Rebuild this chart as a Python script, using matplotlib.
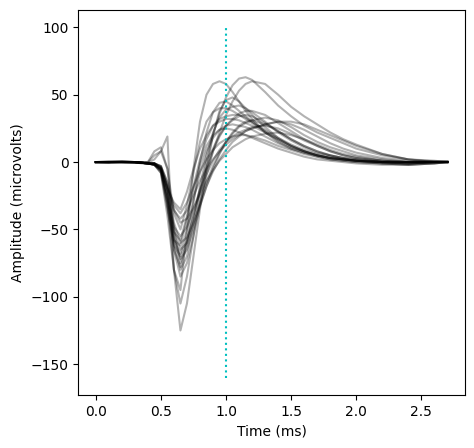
import numpy as np
import matplotlib
matplotlib.use("Agg")
import matplotlib.pyplot as plt

# shared time axis (ms)
t = [0.0, 0.1, 0.2, 0.3, 0.4, 0.45, 0.5, 0.55, 0.6, 0.65, 0.7, 0.75, 0.8,
     0.85, 0.9, 0.95, 1.0, 1.05, 1.1, 1.15, 1.2, 1.3, 1.4, 1.5, 1.6, 1.7,
     1.8, 1.9, 2.0, 2.2, 2.4, 2.6, 2.7]

# spike waveforms (microvolts), one list per spike
w01 = [0, 0, 0.5, 0, -0.5, 2, 8, 19, -80, -125, -105, -70, -35, -5, 20, 38, 46, 48, 45, 40, 35, 26, 18, 12, 8, 5, 3, 2, 1, 0, 0, 0.5, 0.5]
w02 = [0, 0.5, 0, 0, -1, -1, -6, -30, -80, -105, -85, -55, -25, 0, 20, 36, 48, 57, 62, 63, 61, 52, 42, 34, 27, 22, 18, 14, 10, 5, 2, 0.5, 0]
w03 = [0, 0, 0, -0.5, -1, -2, -8, -40, -80, -95, -50, -5, 30, 50, 58, 60, 58, 52, 45, 38, 32, 22, 15, 10, 7, 5, 3, 2, 1, 0, -1, 0, 0]
w04 = [0, 0, 0.5, 0, -1, -2, -5, -25, -65, -85, -75, -55, -32, -10, 8, 22, 35, 45, 53, 58, 60, 58, 50, 41, 34, 28, 22, 17, 13, 6, 2, 0, 0]
w05 = [0, -0.5, 0, 0, -1, -1, -4, -20, -60, -80, -70, -45, -18, 5, 22, 33, 39, 41, 42, 40, 37, 30, 22, 16, 11, 7, 5, 3, 2, 0, -1, 0, 0.5]
w06 = [0, 0, 0, -0.5, -1, -2, -6, -30, -65, -78, -62, -40, -20, -4, 10, 20, 27, 31, 34, 35, 34, 29, 23, 17, 12, 8, 5, 3, 1, -1, -2, -1, 0]
w07 = [0, 0, 0.5, 0, 0, 8, 11, -5, -50, -75, -60, -30, 0, 22, 37, 44, 45, 42, 38, 34, 30, 22, 16, 11, 8, 5, 3, 2, 1, 0, 0, 0.5, 0]
w08 = [0, 0, 0, 0, -1, -1, -3, -18, -55, -72, -65, -50, -33, -18, -5, 6, 15, 22, 27, 30, 31, 28, 23, 17, 12, 8, 5, 3, 2, 0, -1, 0, 0]
w09 = [0, 0.5, 0, 0, -1, -2, -8, -35, -62, -70, -58, -40, -22, -6, 8, 19, 27, 32, 36, 38, 38, 35, 29, 23, 17, 12, 8, 5, 3, 1, 0, 0, 0.5]
w10 = [0, 0, 0, -0.5, -1, -1, -5, -25, -58, -68, -50, -28, -8, 8, 18, 24, 27, 28, 27, 26, 24, 19, 14, 10, 7, 4, 2, 1, 0, -1, -2, -1, 0]
w11 = [0, 0, 0, 0, -1, -1, -4, -20, -50, -65, -60, -46, -30, -15, -3, 7, 15, 21, 26, 29, 31, 33, 31, 26, 20, 15, 11, 8, 5, 2, 0, 0, 0]
w12 = [0, 0, 0.5, 0, -0.5, -2, -7, -32, -58, -62, -42, -20, -2, 12, 20, 24, 25, 24, 22, 20, 18, 14, 10, 7, 4, 2, 1, 0, -1, -2, -2, -1, 0]
w13 = [0, 0, 0, 0, -1, -1, -3, -15, -45, -60, -56, -45, -32, -18, -7, 2, 9, 15, 19, 23, 25, 28, 30, 28, 24, 19, 14, 10, 7, 3, 1, 0, 0]
w14 = [0, -0.5, 0, 0, -1, -1, -5, -28, -52, -58, -40, -18, 2, 17, 27, 32, 34, 35, 35, 33, 30, 24, 18, 13, 9, 6, 4, 2, 1, 0, 0, 0, 0]
w15 = [0, 0, 0, 0, -1, -2, -6, -25, -48, -55, -48, -35, -21, -9, 1, 9, 15, 19, 22, 24, 26, 27, 25, 21, 16, 12, 8, 5, 3, 1, 0, 0, 0]
w16 = [0, 0, 0, 0, 0, 5, 8, -5, -38, -50, -32, -8, 15, 30, 37, 40, 40, 38, 35, 32, 29, 23, 17, 12, 8, 5, 3, 2, 1, 0, 0, 0, 0]
w17 = [0, 0, 0, 0, -1, -1, -3, -15, -35, -45, -42, -34, -24, -14, -6, 1, 6, 11, 14, 17, 19, 21, 22, 20, 17, 13, 9, 6, 4, 1, 0, 0, 0]
w18 = [0, 0, 0, 0, -1, -2, -5, -20, -36, -42, -36, -25, -14, -5, 2, 8, 13, 17, 20, 23, 25, 28, 30, 30, 28, 24, 20, 16, 12, 6, 2, 1, 0]
w19 = [0, 0, 0, 0, -1, -1, -4, -18, -32, -38, -30, -18, -7, 2, 9, 14, 17, 19, 20, 20, 19, 16, 12, 9, 6, 4, 2, 1, 0, -1, -1, 0, 0]
w20 = [0, 0, 0, 0, -1, -2, -5, -20, -30, -35, -22, -5, 10, 20, 27, 30, 32, 32, 31, 29, 27, 22, 17, 12, 8, 5, 3, 2, 1, 0, 0, 0, 0]

waveforms = [w01, w02, w03, w04, w05, w06, w07, w08, w09, w10,
             w11, w12, w13, w14, w15, w16, w17, w18, w19, w20]

fig = plt.figure(figsize=(4.74, 4.48), dpi=100)
ax = fig.add_axes([0.165, 0.118, 0.816, 0.86])

for w in waveforms:
    ax.plot(t, w, color='k', alpha=0.3)

ax.vlines(1.0, -160, 100, colors='c', linestyles=':')

ax.set_xlabel('Time (ms)')
ax.set_ylabel('Amplitude (microvolts)')

fig.savefig('out.png')
